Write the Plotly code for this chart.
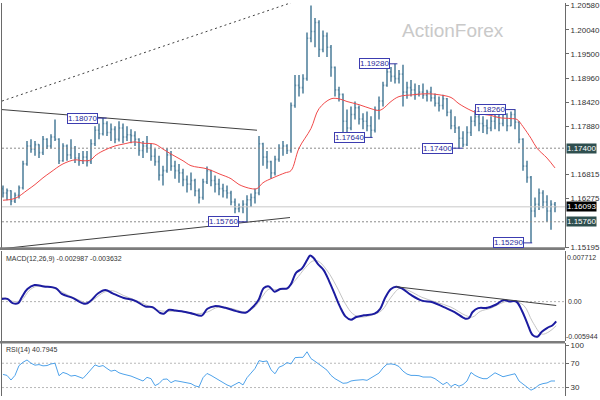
import plotly.graph_objects as go

# ---------------- data ----------------
bar_index = list(range(139))
bar_open = [1.1650, 1.1640, 1.1645, 1.1622, 1.1635, 1.1652, 1.1705, 1.1745, 1.1738, 1.1748,
            1.1730, 1.1760, 1.1745, 1.1765, 1.1760, 1.1712, 1.1745, 1.1725, 1.1740, 1.1718,
            1.1712, 1.1720, 1.1710, 1.1750, 1.1780, 1.1772, 1.1795, 1.1775, 1.1782, 1.1760,
            1.1785, 1.1765, 1.1770, 1.1768, 1.1760, 1.1735, 1.1745, 1.1740, 1.1722, 1.1710,
            1.1680, 1.1690, 1.1725, 1.1700, 1.1690, 1.1685, 1.1670, 1.1660, 1.1668, 1.1645,
            1.1630, 1.1665, 1.1690, 1.1668, 1.1660, 1.1650, 1.1645, 1.1640, 1.1620, 1.1605,
            1.1608, 1.1615, 1.1625, 1.1630, 1.1640, 1.1750, 1.1720, 1.1710, 1.1685, 1.1715,
            1.1740, 1.1745, 1.1735, 1.1835, 1.1880, 1.1875, 1.1895, 1.1985, 1.2000, 1.2020,
            1.1960, 1.1990, 1.1965, 1.1920, 1.1870, 1.1860, 1.1800, 1.1785, 1.1815, 1.1830,
            1.1805, 1.1800, 1.1790, 1.1780, 1.1825, 1.1845, 1.1880, 1.1910, 1.1900, 1.1895,
            1.1905, 1.1865, 1.1875, 1.1870, 1.1860, 1.1865, 1.1858, 1.1865, 1.1852, 1.1840,
            1.1835, 1.1850, 1.1820, 1.1790, 1.1785, 1.1762, 1.1748, 1.1775, 1.1800, 1.1810,
            1.1795, 1.1790, 1.1785, 1.1800, 1.1810, 1.1795, 1.1815, 1.1790, 1.1815, 1.1798,
            1.1760, 1.1700, 1.1675, 1.1600, 1.1615, 1.1640, 1.1620, 1.1600, 1.1615]
bar_high = [1.1657, 1.1650, 1.1646, 1.1641, 1.1657, 1.1712, 1.1756, 1.1760, 1.1756, 1.1749,
            1.1767, 1.1762, 1.1771, 1.1804, 1.1762, 1.1751, 1.1748, 1.1760, 1.1745, 1.1729,
            1.1734, 1.1734, 1.1760, 1.1789, 1.1795, 1.1807, 1.1800, 1.1795, 1.1789, 1.1800,
            1.1795, 1.1789, 1.1782, 1.1778, 1.1762, 1.1756, 1.1767, 1.1751, 1.1738, 1.1723,
            1.1701, 1.1740, 1.1734, 1.1712, 1.1705, 1.1694, 1.1679, 1.1686, 1.1672, 1.1650,
            1.1672, 1.1699, 1.1692, 1.1679, 1.1672, 1.1661, 1.1657, 1.1645, 1.1628, 1.1617,
            1.1624, 1.1635, 1.1639, 1.1650, 1.1767, 1.1752, 1.1734, 1.1712, 1.1723, 1.1749,
            1.1756, 1.1749, 1.1842, 1.1903, 1.1903, 1.1905, 1.1998, 1.2058, 1.2030, 1.2025,
            1.2002, 1.1998, 1.1970, 1.1922, 1.1877, 1.1862, 1.1826, 1.1833, 1.1844, 1.1835,
            1.1818, 1.1822, 1.1811, 1.1833, 1.1855, 1.1888, 1.1921, 1.1921, 1.1928, 1.1914,
            1.1926, 1.1888, 1.1892, 1.1884, 1.1881, 1.1884, 1.1870, 1.1877, 1.1862, 1.1855,
            1.1859, 1.1852, 1.1826, 1.1811, 1.1789, 1.1778, 1.1789, 1.1811, 1.1825, 1.1822,
            1.1811, 1.1804, 1.1811, 1.1822, 1.1818, 1.1822, 1.1818, 1.1822, 1.1826, 1.1800,
            1.1762, 1.1712, 1.1678, 1.1630, 1.1650, 1.1646, 1.1635, 1.1624, 1.1620]
bar_low = [1.1630, 1.1624, 1.1613, 1.1618, 1.1628, 1.1648, 1.1701, 1.1730, 1.1723, 1.1718,
           1.1725, 1.1738, 1.1740, 1.1756, 1.1705, 1.1710, 1.1712, 1.1716, 1.1707, 1.1701,
           1.1705, 1.1699, 1.1705, 1.1745, 1.1760, 1.1768, 1.1767, 1.1756, 1.1751, 1.1755,
           1.1751, 1.1756, 1.1751, 1.1745, 1.1723, 1.1718, 1.1730, 1.1712, 1.1701, 1.1668,
           1.1657, 1.1685, 1.1690, 1.1672, 1.1663, 1.1655, 1.1641, 1.1646, 1.1633, 1.1617,
           1.1625, 1.1660, 1.1655, 1.1641, 1.1635, 1.1630, 1.1628, 1.1613, 1.1595, 1.1597,
           1.1595, 1.1576, 1.1609, 1.1617, 1.1635, 1.1701, 1.1694, 1.1672, 1.1679, 1.1710,
           1.1723, 1.1727, 1.1730, 1.1830, 1.1855, 1.1862, 1.1890, 1.1976, 1.1965, 1.1943,
           1.1954, 1.1943, 1.1899, 1.1855, 1.1844, 1.1772, 1.1773, 1.1780, 1.1804, 1.1793,
           1.1782, 1.1778, 1.1764, 1.1775, 1.1804, 1.1833, 1.1877, 1.1888, 1.1884, 1.1884,
           1.1833, 1.1850, 1.1855, 1.1848, 1.1855, 1.1850, 1.1844, 1.1844, 1.1833, 1.1822,
           1.1826, 1.1811, 1.1782, 1.1774, 1.1740, 1.1742, 1.1745, 1.1767, 1.1789, 1.1778,
           1.1774, 1.1771, 1.1778, 1.1782, 1.1778, 1.1789, 1.1778, 1.1789, 1.1782, 1.1751,
           1.1690, 1.1663, 1.1529, 1.1586, 1.1602, 1.1606, 1.1576, 1.1558, 1.1597]
bar_close = [1.1640, 1.1645, 1.1622, 1.1635, 1.1652, 1.1705, 1.1745, 1.1738, 1.1748, 1.1730,
             1.1760, 1.1745, 1.1765, 1.1760, 1.1712, 1.1745, 1.1725, 1.1740, 1.1718, 1.1712,
             1.1720, 1.1710, 1.1750, 1.1780, 1.1772, 1.1795, 1.1775, 1.1782, 1.1760, 1.1785,
             1.1765, 1.1770, 1.1768, 1.1760, 1.1735, 1.1745, 1.1740, 1.1722, 1.1710, 1.1680,
             1.1690, 1.1725, 1.1700, 1.1690, 1.1685, 1.1670, 1.1660, 1.1668, 1.1645, 1.1630,
             1.1665, 1.1690, 1.1668, 1.1660, 1.1650, 1.1645, 1.1640, 1.1620, 1.1605, 1.1608,
             1.1615, 1.1625, 1.1630, 1.1640, 1.1750, 1.1720, 1.1710, 1.1685, 1.1715, 1.1740,
             1.1745, 1.1735, 1.1835, 1.1880, 1.1875, 1.1895, 1.1985, 1.2000, 1.2020, 1.1960,
             1.1990, 1.1965, 1.1920, 1.1870, 1.1860, 1.1800, 1.1785, 1.1815, 1.1830, 1.1805,
             1.1800, 1.1790, 1.1780, 1.1825, 1.1845, 1.1880, 1.1910, 1.1900, 1.1895, 1.1905,
             1.1865, 1.1875, 1.1870, 1.1860, 1.1865, 1.1858, 1.1865, 1.1852, 1.1840, 1.1835,
             1.1850, 1.1820, 1.1790, 1.1785, 1.1762, 1.1748, 1.1775, 1.1800, 1.1810, 1.1795,
             1.1790, 1.1785, 1.1800, 1.1810, 1.1795, 1.1815, 1.1790, 1.1815, 1.1798, 1.1760,
             1.1700, 1.1675, 1.1600, 1.1615, 1.1640, 1.1620, 1.1600, 1.1615, 1.16093]

# moving average (red) read at selected bars
ma_x = [0, 3, 6, 8, 10, 12, 15, 18, 20, 22, 23, 25, 28, 30, 33, 35, 38, 40, 42, 45, 47, 51, 54,
        57, 59, 62, 63.5, 65, 67.5, 70.5, 72, 74, 77, 79, 82, 84, 86, 89, 92, 94, 95, 97, 99,
        102.5, 105, 107, 109, 112, 114, 117, 119, 122, 124, 127, 128.5, 130, 132, 133.5, 136, 138]
ma_y = [1.1624, 1.1628, 1.1646, 1.1659, 1.1674, 1.1687, 1.1705, 1.1714, 1.1712, 1.1714, 1.1723,
        1.1734, 1.1745, 1.1749, 1.1754, 1.1751, 1.1749, 1.1738, 1.1727, 1.1712, 1.1701, 1.1694,
        1.1683, 1.1672, 1.1659, 1.1650, 1.1650, 1.1663, 1.1674, 1.1685, 1.1690, 1.1740, 1.1784,
        1.1828, 1.1850, 1.1850, 1.1844, 1.1837, 1.1828, 1.1824, 1.1828, 1.1844, 1.1855, 1.1859,
        1.1861, 1.1861, 1.1859, 1.1853, 1.1839, 1.1824, 1.1817, 1.1813, 1.1808, 1.1806, 1.1804,
        1.1788, 1.1762, 1.1740, 1.1718, 1.1696]

# MACD main (blue) and signal (grey)
macd_x = [-0.3, 1.1, 2.4, 3.8, 4.7, 6.1, 7.9, 10.2, 13.3, 14.7, 17.4, 20.6, 22.0, 23.8, 25.6, 27.4,
          30.2, 32.9, 35.6, 37.4, 39.3, 40.2, 41.5, 42.9, 45.6, 47.4, 49.7, 51.1, 52.9, 55.6, 58.3,
          60.6, 62.0, 63.8, 65.2, 66.5, 67.9, 69.3, 71.1, 72.0, 73.3, 74.7, 76.1, 76.8, 77.6, 78.8,
          80.2, 81.5, 82.9, 84.3, 85.6, 87.0, 88.3, 90.2, 92.9, 94.3, 95.6, 97.0, 98.3, 99.7, 102.0,
          104.7, 107.4, 110.2, 112.9, 115.6, 116.5, 117.4, 118.8, 121.1, 123.3, 125.2, 126.5, 128.3,
          129.7, 131.1, 132.4, 133.6, 134.7, 136.1, 137.4, 138.3]
macd_main = [0.00041, 0.00041, -0.00023, -0.00023, 0.00066, 0.00190, 0.00250, 0.00230, 0.00200,
             0.00116, 0.00056, -0.00033, 0.00016, 0.00126, 0.00175, 0.00126, 0.00056, 0.00016,
             -0.00073, -0.00083, -0.00172, -0.00182, -0.00123, -0.00133, -0.00157, -0.00182,
             -0.00212, -0.00108, -0.00068, -0.00093, -0.00143, -0.00167, -0.00108, 0.00016,
             0.00205, 0.00230, 0.00151, 0.00190, 0.00200, 0.00265, 0.00439, 0.00498, 0.00637,
             0.00697, 0.00662, 0.00563, 0.00473, 0.00314, 0.00116, -0.00083, -0.00222, -0.00272,
             -0.00232, -0.00207, -0.00182, -0.00108, 0.00066, 0.00190, 0.00225, 0.00200, 0.00101,
             0.00016, -0.00008, -0.00083, -0.00157, -0.00257, -0.00247, -0.00157, -0.00098,
             -0.00093, -0.00043, 0.00026, 0.00002, 0.00002, -0.00133, -0.00331, -0.00505,
             -0.00530, -0.00456, -0.00396, -0.00356, -0.002987]
signal_x = [-0.3, 2.9, 4.7, 6.5, 8.3, 11.1, 13.8, 16.5, 19.3, 21.1, 22.9, 25.2, 27.4, 30.2, 32.9,
            35.6, 38.3, 41.1, 44.7, 48.4, 51.1, 53.8, 57.4, 60.6, 62.9, 64.7, 66.5, 68.3, 71.1,
            73.3, 75.6, 77.4, 78.8, 81.1, 83.3, 85.6, 87.4, 89.3, 92.0, 94.7, 97.0, 99.3, 101.5,
            104.7, 108.3, 112.0, 115.6, 117.4, 119.3, 122.0, 125.2, 127.4, 130.2, 132.4, 134.7,
            136.5, 138.3]
macd_signal = [0.00066, 0.00002, 0.00026, 0.00165, 0.00230, 0.00230, 0.00175, 0.00091, 0.00016,
               -0.00023, 0.00041, 0.00141, 0.00165, 0.00091, 0.00026, -0.00043, -0.00123,
               -0.00148, -0.00143, -0.00182, -0.00157, -0.00083, -0.00108, -0.00157, -0.00083,
               0.00066, 0.00190, 0.00180, 0.00205, 0.00339, 0.00513, 0.00612, 0.00612, 0.00463,
               0.00240, -0.00033, -0.00182, -0.00232, -0.00207, -0.00133, 0.00066, 0.00205,
               0.00165, 0.00066, -0.00008, -0.00083, -0.00207, -0.00232, -0.00147, -0.00098,
               -0.00008, 0.00016, -0.00058, -0.00306, -0.00490, -0.00455, -0.003632]

# RSI(14) per bar
rsi = [51.6, 50.0, 42.4, 50.0, 66.2, 71.6, 75.4, 70.0, 66.8, 67.8, 65.7, 66.2, 68.9, 70.0, 49.5,
       54.9, 52.7, 48.9, 50.0, 47.8, 45.1, 52.2, 59.7, 67.3, 64.6, 66.2, 61.4, 57.0, 58.6, 54.3,
       52.2, 51.1, 48.9, 46.2, 43.0, 40.8, 46.8, 44.6, 33.2, 36.5, 43.5, 44.1, 38.1, 41.4, 40.3,
       39.2, 38.1, 36.5, 32.7, 31.1, 46.2, 53.2, 50.0, 46.2, 42.4, 37.6, 34.3, 31.6, 34.9, 38.7,
       34.3, 46.2, 53.8, 61.4, 74.3, 72.7, 73.8, 59.2, 52.7, 63.5, 66.2, 71.1, 68.9, 79.2, 79.7,
       79.7, 88.9, 77.6, 73.2, 68.9, 63.5, 58.6, 50.0, 44.6, 40.8, 37.0, 37.6, 40.8, 41.9, 42.4,
       43.0, 41.9, 45.7, 49.5, 53.8, 62.4, 68.4, 68.9, 67.8, 64.6, 57.0, 52.2, 50.0, 50.0, 49.5,
       47.3, 47.8, 47.3, 44.6, 40.3, 34.9, 38.7, 31.6, 35.4, 32.2, 34.9, 40.8, 54.9, 50.0, 46.8,
       44.6, 44.6, 50.0, 54.3, 51.1, 47.8, 49.5, 51.1, 52.7, 40.8, 35.4, 31.1, 25.7, 28.9, 34.3,
       36.5, 37.6, 40.8, 40.7945]

# drawn objects (bar index, price)
dash_line_x = [-0.25, 72]
dash_line_y = [1.1845, 1.2064]
wedge_top_x = [-0.25, 63.5]
wedge_top_y = [1.1826, 1.1780]
wedge_bot_x = [-0.25, 71.75]
wedge_bot_y = [1.1516, 1.15855]
macd_trend_x = [98.3, 138.3]
macd_trend_y = [0.00225, -0.00058]
hlines = [1.1740, 1.1576]
bid_price = 1.16093

label_prices = [1.1807, 1.1576, 1.1764, 1.1928, 1.1740, 1.1826, 1.1529]
label_from = [23.75, 59.0, 90.5, 96.75, 112.5, 125.75, 130.25]
label_to = [25.9, 61.1, 92.4, 98.6, 114.9, 128.1, 132.3]

price_ticks = [1.2058, 1.2004, 1.1950, 1.1896, 1.1842, 1.1788, 1.16815, 1.16275, 1.15195]
price_tick_text = ["1.20580", "1.20040", "1.19500", "1.18960", "1.18420", "1.17880",
                   "1.16815", "1.16275", "1.15195"]
marked_levels = [("1.17400", 1.1740, "#2f4f4f"), ("1.16093", 1.16093, "#000000"),
                 ("1.15760", 1.1576, "#2f4f4f")]
macd_max, macd_min = 0.007712, -0.005944
rsi_ticks = [100, 70, 30]

# ---------------- figure ----------------
BAR = "#55849f"
FONT = "Liberation Sans"
XR = [-0.25, 140.5]
H = 400.0
PW = 563.0  # plot-area width in px (page x 2 .. 565)

fig = go.Figure()

fig.add_trace(go.Ohlc(x=bar_index, open=bar_open, high=bar_high, low=bar_low, close=bar_close,
                      increasing=dict(line=dict(color=BAR, width=1.6)),
                      decreasing=dict(line=dict(color=BAR, width=1.6)),
                      tickwidth=0.3, xaxis="x", yaxis="y", hoverinfo="skip", showlegend=False))

def line(x, y, color, width=1, dash=None, xa="x", ya="y", shape="linear"):
    fig.add_trace(go.Scatter(x=x, y=y, mode="lines", xaxis=xa, yaxis=ya, hoverinfo="skip",
                             showlegend=False,
                             line=dict(color=color, width=width, dash=dash, shape=shape)))

# horizontal levels
for lv in hlines:
    line(XR, [lv, lv], "#8a8a8a", 1, "2px,2px")
line(XR, [bid_price, bid_price], "#c8c8c8", 1)

line(ma_x, ma_y, "#f04a4a", 1, shape="spline")
line(dash_line_x, dash_line_y, "#404040", 1, "2px,3px")
line(wedge_top_x, wedge_top_y, "#404040", 1)
line(wedge_bot_x, wedge_bot_y, "#404040", 1)

# label leaders
for p, a, b in zip(label_prices, label_from, label_to):
    line([a, b], [p, p], "#3535a5", 1)

# MACD panel
line(XR, [0, 0], "#b0b0b0", 1, "2px,2px", "x2", "y2")
line(signal_x, macd_signal, "#c4c4c4", 1, xa="x2", ya="y2", shape="spline")
line(macd_x, macd_main, "#1c1ca0", 2, xa="x2", ya="y2", shape="spline")
line(macd_trend_x, macd_trend_y, "#404040", 1, xa="x2", ya="y2")

# RSI panel
for lv in (70, 30):
    line(XR, [lv, lv], "#b8b8b8", 1, "2px,2px", "x3", "y3")
line(bar_index, rsi, "#4ea2ea", 1, xa="x3", ya="y3")

small = dict(family=FONT, size=7, color="#333")
ann = []
for p, a in zip(label_prices, label_from):
    ann.append(dict(x=a, y=p, xref="x", yref="y", text=f"{p:.5f}", showarrow=False,
                    xanchor="right", yanchor="middle", bgcolor="white", bordercolor="#3c3cb0",
                    borderwidth=1, borderpad=0, font=dict(family=FONT, size=8, color="#2a2a9a")))
for txt, p, col in marked_levels:
    ann.append(dict(x=1, y=p, xref="paper", yref="y", text=txt, showarrow=False,
                    xanchor="left", yanchor="middle", xshift=1, bgcolor=col, borderpad=0,
                    font=dict(family=FONT, size=8, color="white")))
ann.append(dict(x=1, y=macd_max, xref="paper", yref="y2", text=f"{macd_max:.6f}", showarrow=False,
                xanchor="left", yanchor="top", xshift=0, yshift=-1, font=small))
ann.append(dict(x=1, y=0, xref="paper", yref="y2", text="0.00", showarrow=False,
                xanchor="left", yanchor="middle", xshift=1, font=small))
ann.append(dict(x=1, y=macd_min, xref="paper", yref="y2", text=f"{macd_min:.6f}", showarrow=False,
                xanchor="left", yanchor="bottom", xshift=-1, yshift=-1, font=small))
ann.append(dict(x=0, y=1, xref="paper", yref="y2 domain", text="MACD(12,26,9) -0.002987 -0.003632",
                showarrow=False, xanchor="left", yanchor="top", xshift=2, yshift=-2, font=small))
ann.append(dict(x=0, y=1, xref="paper", yref="y3 domain", text="RSI(14) 40.7945",
                showarrow=False, xanchor="left", yanchor="top", xshift=2, yshift=-1, font=small))
ann.append(dict(x=(453 - 2) / PW, y=1 - 28 / H, xref="paper", yref="paper", text="ActionForex",
                showarrow=False, xanchor="center", yanchor="middle",
                font=dict(family=FONT, size=19, color="#c9c9c9")))

# panel separators (page pixel rows converted to paper units)
shapes = []
for top_px, bot_px in ((248.5, 251.5), (344.0, 346.5)):
    shapes.append(dict(type="rect", xref="paper", yref="paper", x0=-2 / PW, x1=1,
                       y0=1 - bot_px / H, y1=1 - top_px / H, fillcolor="#7c7c7c",
                       line=dict(width=0), layer="above"))

yaxis_common = dict(showgrid=False, zeroline=False, showline=True, mirror=True,
                    linecolor="#6a6a6a", linewidth=1)
xaxis_common = dict(showgrid=False, zeroline=False, showline=False, showticklabels=False,
                    ticks="", range=XR, domain=[0, 1])
fig.update_layout(
    width=600, height=400, margin=dict(l=2, r=35, t=0, b=0),
    paper_bgcolor="white", plot_bgcolor="white", showlegend=False,
    font=dict(family=FONT, size=8, color="#333"),
    xaxis=dict(anchor="y", rangeslider=dict(visible=False), **xaxis_common),
    xaxis2=dict(anchor="y2", **xaxis_common),
    xaxis3=dict(anchor="y3", **xaxis_common),
    yaxis=dict(domain=[1 - 249.5 / H, 1], range=[1.15173, 1.20635], side="right", anchor="x",
               tickvals=price_ticks, ticktext=price_tick_text, ticks="outside", ticklen=3,
               tickcolor="#6a6a6a", tickfont=dict(family=FONT, size=8, color="#333"),
               **yaxis_common),
    yaxis2=dict(domain=[1 - 344.0 / H, 1 - 252.0 / H], range=[macd_min, macd_max], side="right",
                anchor="x2", showticklabels=False, ticks="", **yaxis_common),
    yaxis3=dict(domain=[0, 1 - 346.5 / H], range=[16.1, 102.6], side="right", anchor="x3",
                tickvals=rsi_ticks, ticktext=[str(t) for t in rsi_ticks], ticks="outside",
                ticklen=3, tickcolor="#6a6a6a", tickfont=dict(family=FONT, size=8, color="#333"),
                **yaxis_common),
    annotations=ann,
    shapes=shapes,
)

fig.write_html("out.html", config={"displayModeBar": False},
               post_script="document.body.style.margin='0px';")
